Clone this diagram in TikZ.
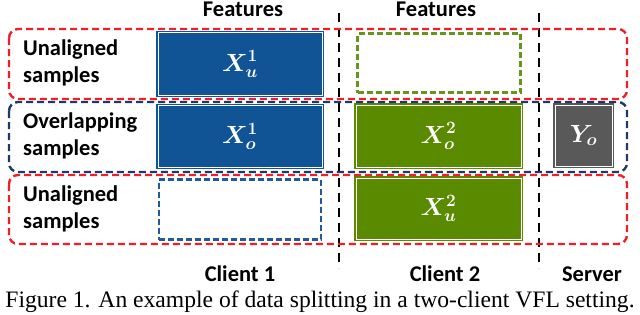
\documentclass[tikz,border=0pt]{standalone}
\usepackage{fontspec}
\usepackage{amsmath}
\usepackage{bm}
\setmainfont{Liberation Serif}
\newfontfamily\carlitofont{Carlito}
\definecolor{bluef}{RGB}{16,84,150}
\definecolor{greenf}{RGB}{89,138,0}
\definecolor{grayf}{RGB}{89,89,89}
\definecolor{redd}{RGB}{240,30,40}
\definecolor{navyd}{RGB}{31,56,100}
\definecolor{blued}{RGB}{30,90,160}
\definecolor{greend}{RGB}{100,150,30}
\tikzset{
  x=1pt,y=-1pt,
  filledbox/.style={draw=#1, fill=#1, double=white, double distance=0.8pt, line width=1.3pt, inner sep=0pt, text=white, font=\fontsize{24}{24}\selectfont},
  emptybox/.style={draw=#1, dash pattern=on 6pt off 3pt, line width=2.4pt, inner sep=0pt},
  group/.style={draw=#1, dash pattern=on 7pt off 4pt, line width=2.4pt, rounded corners=9pt},
  sep/.style={draw=black, dash pattern=on 9pt off 6pt, line width=2.2pt},
  lbl/.style={font=\carlitofont\bfseries\fontsize{22.5}{27}\selectfont, align=left, inner sep=0pt},
  head/.style={font=\carlitofont\bfseries\fontsize{22.5}{22.5}\selectfont, inner sep=0pt},
}
\begin{document}
\begin{tikzpicture}
\useasboundingbox (0,0) rectangle (640,314);
% separators
\coordinate (s1t) at (339,13); \coordinate (s1b) at (339,268);
\coordinate (s2t) at (539,13); \coordinate (s2b) at (539,268);
\draw[sep] (s1t) -- (s1b);
\draw[sep] (s2t) -- (s2b);
% boxes
\node[filledbox=bluef, minimum width=164pt, minimum height=63pt] (xu1) at (240,64) {$\bm{X_u^1}$};
\node[filledbox=bluef, minimum width=164pt, minimum height=62pt] (xo1) at (240,136.5) {$\bm{X_o^1}$};
\node[emptybox=blued, minimum width=162pt, minimum height=60pt] (e1) at (240,209.5) {};
\node[emptybox=greend, minimum width=163pt, minimum height=59pt] (e2) at (439,63) {};
\node[filledbox=greenf, minimum width=165pt, minimum height=62pt] (xo2) at (438.5,136) {$\bm{X_o^2}$};
\node[filledbox=greenf, minimum width=165pt, minimum height=61pt] (xu2) at (438.5,208.5) {$\bm{X_u^2}$};
\node[filledbox=grayf, minimum width=57pt, minimum height=61pt] (yo) at (583.5,135.5) {$\bm{Y_o}$};
% groups
\draw[group=redd] (9,29) rectangle (627,99);
\draw[group=navyd] (9,102) rectangle (627,172);
\draw[group=redd] (9,175) rectangle (627,244);
% labels
\node[lbl, anchor=west] (l1) at (23,63) {Unaligned\\samples};
\node[lbl, anchor=west] (l2) at (23,136) {Overlapping\\samples};
\node[lbl, anchor=west] (l3) at (23,209) {Unaligned\\samples};
\node[head] (f1) at (243,9) {Features};
\node[head] (f2) at (436,9) {Features};
\node[head] (c1) at (240,274) {Client 1};
\node[head] (c2) at (445,274) {Client 2};
\node[head] (sv) at (592,274) {Server};
\node[inner sep=0pt, font=\fontsize{23.6}{23.6}\selectfont] (cap) at (320,302) {Figure 1. An example of data splitting in a two-client VFL setting.};
\end{tikzpicture}
\end{document}
